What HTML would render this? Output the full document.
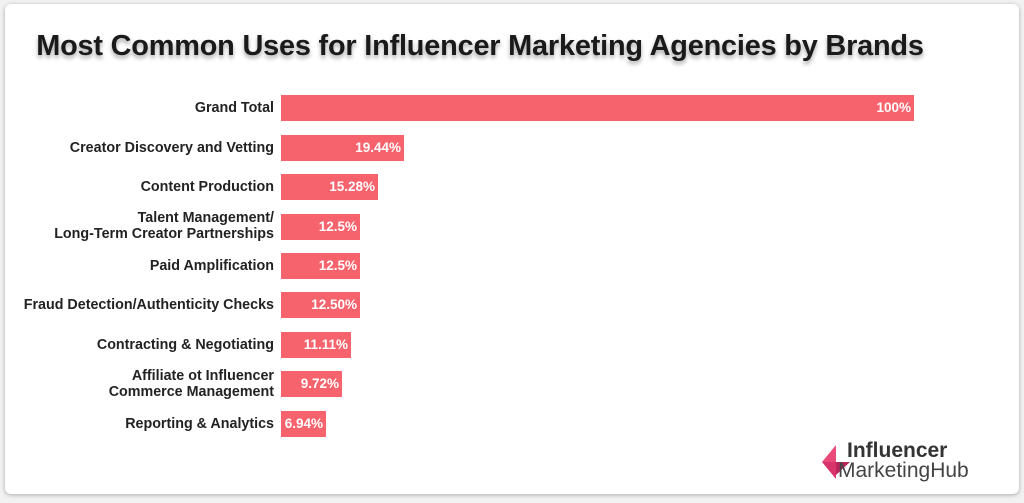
<!DOCTYPE html>
<html><head><style>
body{margin:0;width:1024px;height:503px;background:#f2f2f2;font-family:"Liberation Sans",sans-serif;position:relative;overflow:hidden}
.card{position:absolute;left:5px;top:4px;width:1014px;height:490px;background:#fff;border-radius:6px;box-shadow:0 1px 5px rgba(0,0,0,.3)}
h1{position:absolute;left:0;width:960px;top:30px;margin:0;text-align:center;font-size:28.9px;font-weight:bold;color:#1a1a1a;text-shadow:0 3px 4px rgba(0,0,0,.35);letter-spacing:-0.2px}
.lab{position:absolute;right:750px;text-align:right;font-size:14.3px;font-weight:bold;color:#222;line-height:16px;transform:translateY(-50%)}
.bar{position:absolute;left:281px;height:26px;background:#f7636d;color:#fff;font-weight:bold;font-size:13.5px;line-height:26px;text-align:right;box-sizing:border-box;padding-right:3px;transform:translateY(-50%)}
</style></head><body>
<div class="card"></div>
<h1>Most Common Uses for Influencer Marketing Agencies by Brands</h1>
<div class="lab" style="top:108px">Grand Total</div><div class="bar" style="top:108px;width:633px">100%</div>
<div class="lab" style="top:148px">Creator Discovery and Vetting</div><div class="bar" style="top:148px;width:123px">19.44%</div>
<div class="lab" style="top:187px">Content Production</div><div class="bar" style="top:187px;width:97px">15.28%</div>
<div class="lab" style="top:226px">Talent Management/<br>Long-Term Creator Partnerships</div><div class="bar" style="top:227px;width:79px">12.5%</div>
<div class="lab" style="top:266px">Paid Amplification</div><div class="bar" style="top:266px;width:79px">12.5%</div>
<div class="lab" style="top:305px">Fraud Detection/Authenticity Checks</div><div class="bar" style="top:305px;width:79px">12.50%</div>
<div class="lab" style="top:345px">Contracting &amp; Negotiating</div><div class="bar" style="top:345px;width:70px">11.11%</div>
<div class="lab" style="top:384px">Affiliate ot Influencer<br>Commerce Management</div><div class="bar" style="top:384px;width:61px">9.72%</div>
<div class="lab" style="top:424px">Reporting &amp; Analytics</div><div class="bar" style="top:424px;width:45px">6.94%</div>
<svg style="position:absolute;left:822px;top:443px" width="30" height="36"><polygon points="0,19 14,2 14,19" fill="#e94a7a"/><polygon points="0,19 14,19 14,36" fill="#d8336a"/><polygon points="14,19 28,19 14,32" fill="#b8255a"/></svg>
<div style="position:absolute;left:847px;top:440px;font-size:21px;font-weight:bold;color:#333;line-height:22px">Influencer</div>
<div style="position:absolute;left:838px;top:460px;font-size:21px;color:#444;line-height:22px">MarketingHub</div>
</body></html>
